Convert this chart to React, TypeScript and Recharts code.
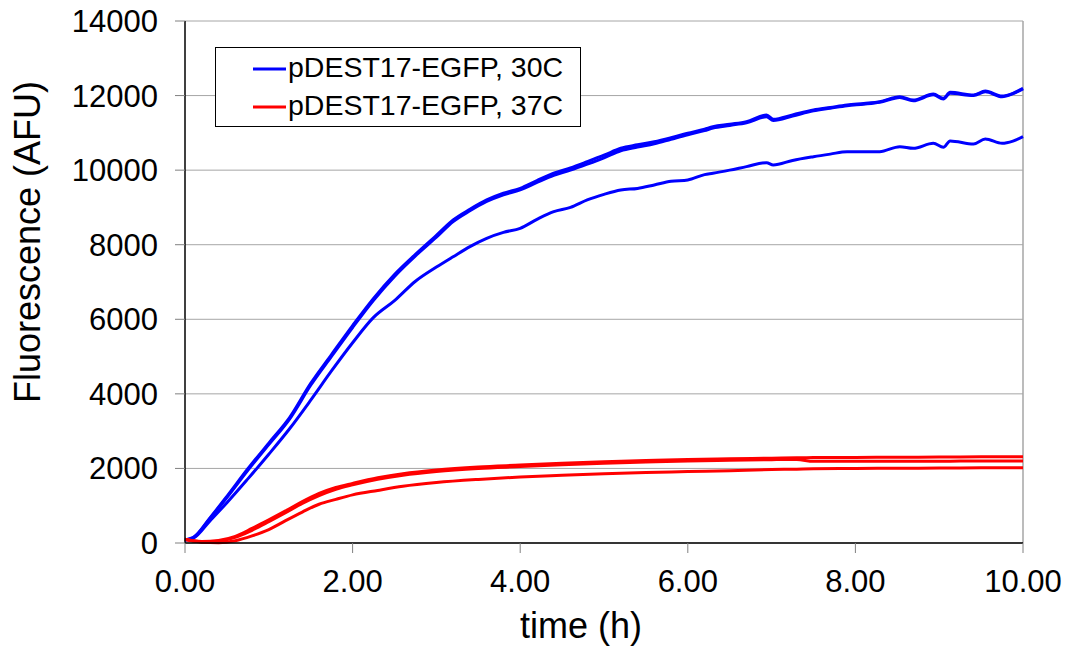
import React from "react";
import { LineChart, Line, XAxis, YAxis, CartesianGrid, ReferenceLine, Legend, Label } from "recharts";

const blueTimes = [0, 0.1, 0.3, 0.5, 0.75, 1, 1.25, 1.5, 1.75, 2, 2.25, 2.5, 2.75, 3, 3.2, 3.4, 3.6, 3.8, 4, 4.2, 4.4, 4.6, 4.8, 5, 5.2, 5.4, 5.6, 5.8, 6, 6.2, 6.3, 6.5, 6.7, 6.94, 7.02, 7.25, 7.5, 7.7, 7.9, 8.1, 8.29, 8.53, 8.69, 8.93, 9.05, 9.13, 9.41, 9.55, 9.75, 9.88, 10];
const blue30a = [80, 150, 680, 1250, 1990, 2680, 3370, 4280, 5060, 5830, 6560, 7200, 7740, 8250, 8663, 8950, 9200, 9380, 9513, 9720, 9916, 10060, 10227, 10400, 10586, 10680, 10763, 10870, 10988, 11100, 11165, 11230, 11300, 11479, 11363, 11480, 11613, 11680, 11747, 11790, 11836, 11970, 11881, 12042, 11927, 12087, 12015, 12122, 11988, 12060, 12195];
const blue30b = [80, 140, 660, 1220, 1950, 2640, 3330, 4230, 5010, 5780, 6510, 7150, 7700, 8200, 8620, 8910, 9160, 9340, 9470, 9670, 9860, 10000, 10160, 10330, 10520, 10620, 10710, 10830, 10950, 11060, 11130, 11200, 11270, 11430, 11330, 11450, 11590, 11660, 11730, 11770, 11820, 11950, 11860, 12020, 11910, 12060, 12000, 12100, 11970, 12050, 12180];
const blue30c = [80, 130, 600, 1080, 1720, 2380, 3070, 3830, 4620, 5370, 6050, 6500, 7020, 7400, 7679, 7950, 8172, 8330, 8440, 8680, 8886, 9000, 9200, 9350, 9468, 9510, 9602, 9700, 9736, 9880, 9916, 10000, 10094, 10200, 10138, 10260, 10360, 10430, 10495, 10490, 10495, 10629, 10585, 10720, 10612, 10782, 10700, 10835, 10720, 10780, 10897];

const redTimes = [0, 0.1, 0.2, 0.4, 0.6, 0.8, 1, 1.2, 1.4, 1.6, 1.8, 2, 2.3, 2.6, 3, 3.5, 4, 4.5, 5, 5.5, 6, 6.5, 7, 7.3, 7.5, 8, 8.5, 9, 9.5, 10];
const red37a = [100, 60, 40, 70, 180, 390, 620, 860, 1110, 1330, 1490, 1600, 1750, 1860, 1960, 2040, 2090, 2140, 2180, 2210, 2240, 2260, 2275, 2285, 2290, 2295, 2300, 2305, 2310, 2315];
const red37b = [100, 55, 30, 50, 150, 340, 570, 810, 1060, 1270, 1440, 1560, 1710, 1820, 1920, 2000, 2050, 2100, 2140, 2170, 2200, 2220, 2235, 2240, 2190, 2195, 2195, 2195, 2200, 2200];
const red37c = [100, 50, 20, 10, 60, 190, 360, 600, 830, 1040, 1170, 1290, 1410, 1520, 1620, 1705, 1770, 1815, 1855, 1890, 1915, 1940, 1970, 1980, 1990, 2000, 2005, 2010, 2015, 2020];

const xTicks = [0, 2, 4, 6, 8, 10];
const yTicks = [0, 2000, 4000, 6000, 8000, 10000, 12000, 14000];
const legendItems = [
  { name: "pDEST17-EGFP, 30C", color: "#0000FF" },
  { name: "pDEST17-EGFP, 37C", color: "#FF0000" },
];

const series = [
  { key: "b1", times: blueTimes, values: blue30a, color: "#0000FF" },
  { key: "b2", times: blueTimes, values: blue30b, color: "#0000FF" },
  { key: "b3", times: blueTimes, values: blue30c, color: "#0000FF" },
  { key: "r1", times: redTimes, values: red37a, color: "#FF0000" },
  { key: "r2", times: redTimes, values: red37b, color: "#FF0000" },
  { key: "r3", times: redTimes, values: red37c, color: "#FF0000" },
];

const FONT = "'Liberation Sans', Arial, sans-serif";

const LegendBox = () => (
  <svg width={366} height={80} style={{ display: "block" }}>
    <rect x={0.5} y={0.5} width={365} height={79} fill="#fff" stroke="#000" strokeWidth={1} />
    {legendItems.map((it, i) => (
      <g key={it.name}>
        <line x1={38} x2={71} y1={22 + i * 38} y2={22 + i * 38} stroke={it.color} strokeWidth={3} />
        <text x={73} y={30 + i * 38} fontFamily={FONT} fontSize={28.5} fill="#000">
          {it.name}
        </text>
      </g>
    ))}
  </svg>
);

export default function App() {
  return (
    <div style={{ position: "absolute", left: 0, top: 0, background: "#fff" }}>
      <LineChart width={1066} height={647} margin={{ top: 21, right: 43, left: 0, bottom: 0 }}>
        <CartesianGrid horizontal vertical={false} stroke="#a6a6a6" strokeWidth={1} />
        <ReferenceLine x={10} stroke="#a6a6a6" strokeWidth={1.5} />
        <XAxis
          type="number"
          dataKey="t"
          domain={[0, 10]}
          ticks={xTicks}
          tickFormatter={(v: number) => v.toFixed(2)}
          height={104}
          tickSize={10}
          tickMargin={17}
          stroke="#000"
          tickLine={{ stroke: "#808080" }}
          axisLine={{ stroke: "#000", strokeWidth: 1.5 }}
          tick={{ fill: "#000", fontSize: 31, fontFamily: FONT }}
          allowDuplicatedCategory={false}
        >
          <Label
            content={() => (
              <text x={581} y={638} textAnchor="middle" fontFamily={FONT} fontSize={36} fill="#000">
                time (h)
              </text>
            )}
          />
        </XAxis>
        <YAxis
          type="number"
          domain={[0, 14000]}
          ticks={yTicks}
          width={185}
          tickSize={10}
          tickMargin={17}
          interval={0}
          tickLine={{ stroke: "#808080" }}
          axisLine={{ stroke: "#000", strokeWidth: 1.5 }}
          tick={{ fill: "#000", fontSize: 31, fontFamily: FONT }}
        >
          <Label
            content={() => (
              <text
                x={40}
                y={242}
                transform="rotate(-90, 40, 242)"
                textAnchor="middle"
                fontFamily={FONT}
                fontSize={36}
                fill="#000"
              >
                Fluorescence (AFU)
              </text>
            )}
          />
        </YAxis>
        <Legend
          layout="vertical"
          align="center"
          verticalAlign="middle"
          wrapperStyle={{ position: "absolute", left: 215, top: 47, width: 366, height: 80 }}
          content={() => <LegendBox />}
        />
        {series.map((s) => (
          <Line
            key={s.key}
            data={s.times.map((t, i) => ({ t, v: s.values[i] }))}
            dataKey="v"
            type="monotone"
            stroke={s.color}
            strokeWidth={3}
            dot={false}
            activeDot={false}
            legendType="none"
            isAnimationActive={false}
          />
        ))}
      </LineChart>
    </div>
  );
}
